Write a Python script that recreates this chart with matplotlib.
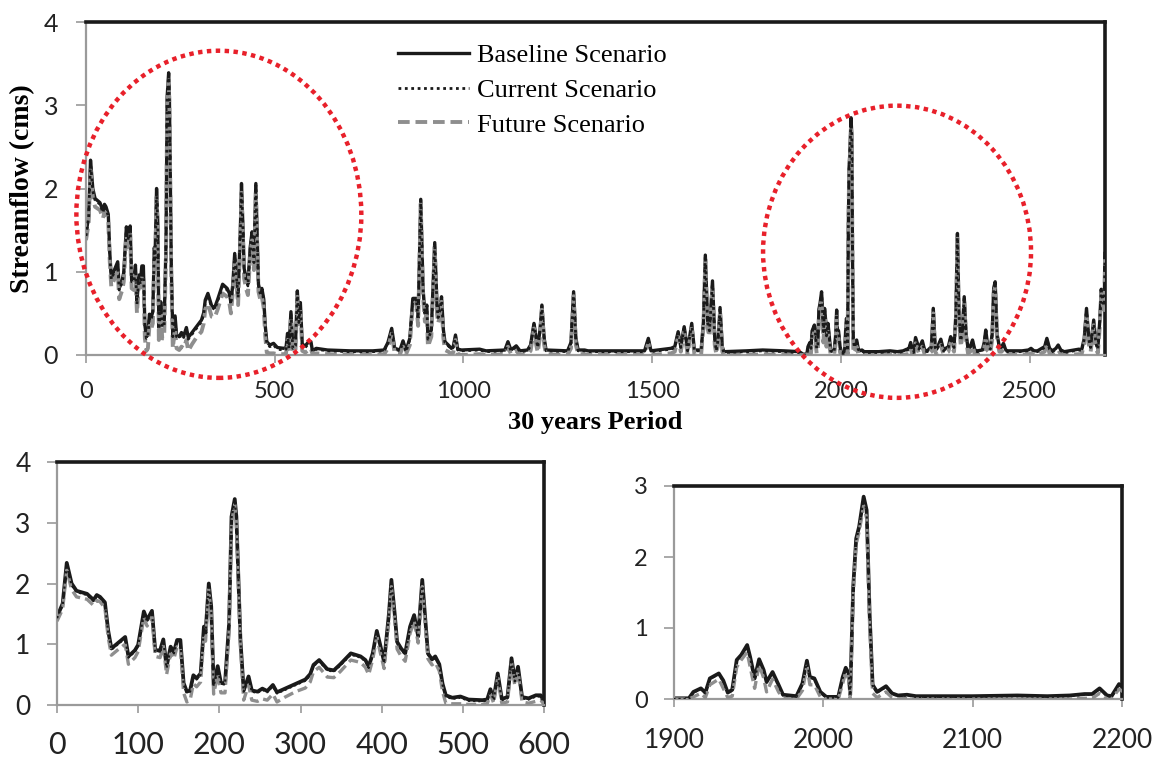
import matplotlib
matplotlib.use("Agg")
import matplotlib.pyplot as plt
from matplotlib.patches import Ellipse
import numpy as np

# ---------------- data ----------------
day_a = [0, 7, 12, 18, 24, 37, 45, 49, 53, 59,
         63, 67, 76, 84, 88, 96, 100, 107, 111, 117,
         121, 127, 131, 135, 140, 144, 148, 152, 156, 160,
         164, 168, 172, 177, 181, 183, 187, 190, 193, 198,
         202, 207, 212, 215, 219, 221, 226, 230, 236, 240,
         247, 253, 259, 266, 271, 281, 294, 306, 312, 316,
         323, 333, 341, 349, 362, 374, 380, 384, 389, 394,
         398, 403, 409, 412, 416, 419, 424, 429, 435, 440,
         445, 450, 455, 457, 462, 466, 471, 475, 479, 487,
         497, 507, 524, 530, 534, 538, 543, 548, 555, 560,
         564, 568, 573, 581, 590, 596]
base_a = [1.45, 1.67, 2.34, 2.00, 1.88, 1.83, 1.73, 1.81, 1.78, 1.69,
          1.23, 0.93, 1.03, 1.12, 0.80, 0.90, 0.99, 1.54, 1.40, 1.55,
          0.90, 0.90, 1.08, 0.63, 0.96, 0.87, 1.07, 1.07, 0.36, 0.22,
          0.24, 0.49, 0.44, 0.52, 1.29, 1.18, 2.00, 1.62, 0.33, 0.64,
          0.36, 0.36, 1.34, 3.10, 3.39, 3.10, 1.07, 0.24, 0.47, 0.24,
          0.22, 0.27, 0.23, 0.33, 0.21, 0.27, 0.35, 0.42, 0.51, 0.66,
          0.74, 0.59, 0.57, 0.67, 0.85, 0.80, 0.74, 0.63, 0.85, 1.22,
          1.00, 0.71, 1.51, 2.06, 1.51, 1.04, 0.93, 0.85, 1.29, 1.48,
          1.13, 2.06, 1.20, 0.85, 0.75, 0.80, 0.67, 0.35, 0.16, 0.12,
          0.14, 0.09, 0.08, 0.09, 0.26, 0.10, 0.52, 0.10, 0.13, 0.77,
          0.41, 0.63, 0.13, 0.11, 0.16, 0.16]
curr_a = [1.43, 1.65, 2.31, 1.97, 1.86, 1.81, 1.71, 1.79, 1.76, 1.67,
          1.21, 0.91, 1.01, 1.10, 0.78, 0.88, 0.97, 1.52, 1.38, 1.53,
          0.88, 0.88, 1.06, 0.61, 0.94, 0.85, 1.05, 1.05, 0.34, 0.20,
          0.22, 0.47, 0.42, 0.50, 1.27, 1.16, 1.98, 1.60, 0.31, 0.62,
          0.34, 0.34, 1.32, 3.08, 3.37, 3.08, 1.05, 0.22, 0.45, 0.22,
          0.20, 0.25, 0.21, 0.31, 0.19, 0.25, 0.33, 0.40, 0.49, 0.64,
          0.72, 0.57, 0.55, 0.65, 0.83, 0.78, 0.72, 0.61, 0.83, 1.20,
          0.98, 0.69, 1.49, 2.04, 1.49, 1.02, 0.91, 0.83, 1.27, 1.46,
          1.11, 2.04, 1.18, 0.83, 0.73, 0.78, 0.65, 0.33, 0.14, 0.10,
          0.12, 0.07, 0.06, 0.07, 0.24, 0.08, 0.50, 0.08, 0.11, 0.75,
          0.39, 0.61, 0.11, 0.09, 0.14, 0.14]
fut_a = [1.38, 1.58, 2.22, 1.90, 1.78, 1.74, 1.64, 1.72, 1.70, 1.60,
         1.12, 0.82, 0.92, 1.00, 0.67, 0.78, 0.88, 1.44, 1.30, 1.45,
         0.80, 0.78, 0.97, 0.50, 0.85, 0.76, 0.96, 0.95, 0.20, 0.05,
         0.08, 0.35, 0.30, 0.38, 1.15, 1.05, 1.90, 1.50, 0.18, 0.50,
         0.20, 0.20, 1.20, 3.00, 3.30, 3.00, 0.95, 0.08, 0.33, 0.08,
         0.06, 0.10, 0.08, 0.18, 0.05, 0.13, 0.22, 0.28, 0.38, 0.55,
         0.62, 0.46, 0.45, 0.55, 0.74, 0.70, 0.62, 0.50, 0.75, 1.12,
         0.88, 0.60, 1.40, 1.95, 1.40, 0.92, 0.80, 0.72, 1.18, 1.38,
         1.02, 1.95, 1.08, 0.76, 0.66, 0.70, 0.56, 0.22, 0.03, 0.02,
         0.02, 0.01, 0.01, 0.02, 0.18, 0.03, 0.45, 0.03, 0.05, 0.70,
         0.32, 0.55, 0.05, 0.03, 0.06, 0.08]

day_b = [600, 610, 640, 700, 760, 790, 800, 810, 818, 832,
         840, 848, 858, 866, 875, 880, 887, 893, 898, 903,
         906, 915, 924, 930, 933, 938, 942, 947, 951, 960,
         968, 973, 979, 985, 995, 1043, 1060, 1110, 1118, 1126,
         1140, 1150, 1170, 1178, 1187, 1193, 1197, 1203, 1208, 1214,
         1219, 1276, 1285, 1292, 1298, 1304, 1321, 1330, 1400, 1480,
         1490, 1497, 1550, 1560, 1569, 1576, 1585, 1594, 1605, 1612,
         1630, 1636, 1641, 1647, 1652, 1660, 1666, 1670, 1675, 1680,
         1686, 1690, 1750, 1793, 1850, 1890]
base_b = [0.05, 0.08, 0.06, 0.05, 0.05, 0.06, 0.15, 0.32, 0.08, 0.06,
          0.17, 0.05, 0.20, 0.68, 0.68, 0.45, 1.87, 0.80, 0.50, 0.60,
          0.20, 0.30, 1.35, 0.60, 0.46, 0.55, 0.70, 0.30, 0.16, 0.12,
          0.08, 0.10, 0.24, 0.07, 0.06, 0.07, 0.05, 0.06, 0.16, 0.06,
          0.11, 0.05, 0.06, 0.12, 0.38, 0.20, 0.10, 0.30, 0.60, 0.20,
          0.06, 0.05, 0.15, 0.76, 0.20, 0.06, 0.06, 0.05, 0.05, 0.05,
          0.20, 0.05, 0.08, 0.10, 0.28, 0.10, 0.34, 0.06, 0.38, 0.06,
          0.06, 0.40, 1.20, 0.40, 0.30, 0.89, 0.20, 0.06, 0.20, 0.57,
          0.10, 0.04, 0.05, 0.06, 0.05, 0.04]
curr_b = [0.04, 0.07, 0.05, 0.04, 0.04, 0.05, 0.14, 0.31, 0.07, 0.05,
          0.16, 0.04, 0.19, 0.67, 0.67, 0.44, 1.86, 0.79, 0.49, 0.59,
          0.19, 0.29, 1.34, 0.59, 0.45, 0.54, 0.69, 0.29, 0.15, 0.11,
          0.07, 0.09, 0.23, 0.06, 0.05, 0.06, 0.04, 0.05, 0.15, 0.05,
          0.10, 0.04, 0.05, 0.11, 0.37, 0.19, 0.09, 0.29, 0.59, 0.19,
          0.05, 0.04, 0.14, 0.75, 0.19, 0.05, 0.05, 0.04, 0.04, 0.04,
          0.19, 0.04, 0.07, 0.09, 0.27, 0.09, 0.33, 0.05, 0.37, 0.05,
          0.05, 0.39, 1.19, 0.39, 0.29, 0.88, 0.19, 0.05, 0.19, 0.56,
          0.09, 0.03, 0.04, 0.05, 0.04, 0.03]
fut_b = [0.01, 0.02, 0.01, 0.00, 0.00, 0.01, 0.08, 0.26, 0.02, 0.01,
         0.10, 0.01, 0.12, 0.62, 0.62, 0.35, 1.82, 0.70, 0.40, 0.52,
         0.10, 0.22, 1.30, 0.50, 0.38, 0.48, 0.64, 0.20, 0.06, 0.04,
         0.01, 0.03, 0.18, 0.01, 0.00, 0.01, 0.00, 0.01, 0.10, 0.01,
         0.05, 0.00, 0.01, 0.05, 0.32, 0.12, 0.03, 0.22, 0.55, 0.12,
         0.01, 0.00, 0.08, 0.71, 0.12, 0.01, 0.01, 0.00, 0.00, 0.00,
         0.14, 0.00, 0.02, 0.04, 0.22, 0.04, 0.28, 0.01, 0.32, 0.01,
         0.01, 0.33, 1.15, 0.32, 0.22, 0.84, 0.12, 0.01, 0.13, 0.52,
         0.04, 0.00, 0.00, 0.01, 0.00, 0.00]

day_c = [1900, 1910, 1913, 1918, 1921, 1924, 1930, 1933, 1936, 1939,
         1942, 1945, 1949, 1951, 1954, 1957, 1960, 1962, 1966, 1970,
         1973, 1982, 1986, 1989, 1991, 1994, 1998, 2002, 2010, 2013,
         2015, 2017, 2018, 2020, 2022, 2024, 2027, 2029, 2031, 2033,
         2036, 2042, 2046, 2050, 2056, 2062, 2100, 2130, 2150, 2165,
         2175, 2180, 2185, 2190, 2193, 2198, 2207, 2216, 2222, 2229,
         2240, 2245, 2250, 2254, 2265, 2272, 2278, 2285, 2291, 2296,
         2300, 2305, 2309, 2313, 2318, 2322, 2327, 2332, 2337, 2343,
         2349, 2355, 2362, 2375, 2380, 2384, 2389, 2396, 2401, 2405,
         2409, 2414, 2420, 2426, 2431, 2437, 2442, 2480, 2497, 2504,
         2512, 2521, 2540, 2546, 2553, 2561, 2570, 2576, 2583, 2592,
         2631, 2638, 2645, 2651, 2657, 2662, 2667, 2670, 2676, 2681,
         2686, 2690, 2694, 2698, 2700]
base_c = [0.01, 0.01, 0.10, 0.15, 0.09, 0.29, 0.36, 0.26, 0.09, 0.13,
          0.55, 0.62, 0.76, 0.59, 0.29, 0.56, 0.41, 0.24, 0.38, 0.20,
          0.06, 0.04, 0.22, 0.54, 0.31, 0.29, 0.10, 0.03, 0.03, 0.31,
          0.44, 0.36, 0.06, 1.58, 2.26, 2.43, 2.85, 2.66, 1.20, 0.20,
          0.10, 0.18, 0.08, 0.05, 0.06, 0.04, 0.04, 0.05, 0.04, 0.05,
          0.07, 0.07, 0.15, 0.05, 0.04, 0.21, 0.08, 0.17, 0.06, 0.05,
          0.10, 0.56, 0.10, 0.07, 0.19, 0.06, 0.08, 0.10, 0.22, 0.15,
          0.10, 0.50, 1.46, 0.50, 0.18, 0.30, 0.70, 0.25, 0.08, 0.10,
          0.18, 0.06, 0.05, 0.06, 0.15, 0.30, 0.12, 0.08, 0.25, 0.80,
          0.88, 0.25, 0.10, 0.10, 0.14, 0.06, 0.05, 0.05, 0.06, 0.08,
          0.05, 0.05, 0.10, 0.20, 0.08, 0.05, 0.08, 0.12, 0.06, 0.04,
          0.07, 0.06, 0.20, 0.56, 0.20, 0.10, 0.30, 0.42, 0.15, 0.08,
          0.40, 0.79, 0.66, 0.60, 1.22]
curr_c = [0.00, 0.00, 0.09, 0.14, 0.08, 0.28, 0.35, 0.25, 0.08, 0.12,
          0.54, 0.61, 0.75, 0.58, 0.28, 0.55, 0.40, 0.23, 0.37, 0.19,
          0.05, 0.03, 0.21, 0.53, 0.30, 0.28, 0.09, 0.02, 0.02, 0.30,
          0.43, 0.35, 0.05, 1.56, 2.24, 2.41, 2.83, 2.64, 1.18, 0.19,
          0.09, 0.17, 0.07, 0.04, 0.05, 0.03, 0.03, 0.04, 0.03, 0.04,
          0.06, 0.06, 0.14, 0.04, 0.03, 0.20, 0.07, 0.16, 0.05, 0.04,
          0.09, 0.55, 0.09, 0.06, 0.18, 0.05, 0.07, 0.09, 0.21, 0.14,
          0.09, 0.49, 1.45, 0.49, 0.17, 0.29, 0.69, 0.24, 0.07, 0.09,
          0.17, 0.05, 0.04, 0.05, 0.14, 0.29, 0.11, 0.07, 0.24, 0.79,
          0.87, 0.24, 0.09, 0.09, 0.13, 0.05, 0.04, 0.04, 0.05, 0.07,
          0.04, 0.04, 0.09, 0.19, 0.07, 0.04, 0.07, 0.11, 0.05, 0.03,
          0.06, 0.05, 0.19, 0.55, 0.19, 0.09, 0.29, 0.41, 0.14, 0.07,
          0.39, 0.78, 0.65, 0.59, 1.21]
fut_c = [0.00, 0.00, 0.03, 0.08, 0.02, 0.20, 0.28, 0.15, 0.02, 0.04,
         0.45, 0.55, 0.66, 0.45, 0.15, 0.48, 0.30, 0.10, 0.28, 0.10,
         0.01, 0.00, 0.12, 0.46, 0.20, 0.20, 0.03, 0.00, 0.00, 0.22,
         0.38, 0.28, 0.01, 1.48, 2.18, 2.36, 2.72, 2.55, 1.05, 0.08,
         0.02, 0.10, 0.02, 0.00, 0.01, 0.00, 0.00, 0.00, 0.00, 0.00,
         0.01, 0.01, 0.08, 0.00, 0.00, 0.14, 0.02, 0.10, 0.01, 0.00,
         0.04, 0.50, 0.04, 0.01, 0.12, 0.01, 0.02, 0.04, 0.15, 0.08,
         0.04, 0.44, 1.40, 0.42, 0.10, 0.23, 0.64, 0.18, 0.02, 0.04,
         0.11, 0.01, 0.00, 0.01, 0.08, 0.22, 0.05, 0.02, 0.18, 0.74,
         0.82, 0.18, 0.04, 0.04, 0.07, 0.01, 0.00, 0.00, 0.01, 0.02,
         0.00, 0.00, 0.04, 0.13, 0.02, 0.00, 0.02, 0.06, 0.01, 0.00,
         0.01, 0.01, 0.13, 0.50, 0.13, 0.04, 0.23, 0.36, 0.08, 0.02,
         0.33, 0.73, 0.60, 0.54, 1.15]

series_labels = ["Baseline Scenario", "Current Scenario", "Future Scenario"]
x_label = "30 years Period"
y_label = "Streamflow (cms)"

# ---------------- assemble ----------------
days = np.array(day_a + day_b + day_c, dtype=float)
baseline = np.array(base_a + base_b + base_c)
current = np.array(curr_a + curr_b + curr_c)
future = np.array(fut_a + fut_b + fut_c)

SANS = "Lato"
SERIF = "Liberation Serif"
GRAY_SPINE = "#9a9a9a"
BLACK = "#1a1a1a"
GRAY_LINE = "#8e8e8e"

W, H = 1169, 758
fig = plt.figure(figsize=(W / 100, H / 100), dpi=100)


def px_axes(l, t, r, b):
    return fig.add_axes([l / W, 1 - b / H, (r - l) / W, (b - t) / H])


def style(ax, xsize, ysize, ylen=7, xlen=6, ypad=12, xpad=8):
    ax.spines["left"].set_color(GRAY_SPINE)
    ax.spines["bottom"].set_color(GRAY_SPINE)
    ax.spines["left"].set_linewidth(1.6)
    ax.spines["bottom"].set_linewidth(1.6)
    ax.spines["top"].set_color(BLACK)
    ax.spines["right"].set_color(BLACK)
    ax.spines["top"].set_linewidth(2.6)
    ax.spines["right"].set_linewidth(2.6)
    ax.tick_params(axis="y", direction="out", length=ylen, width=1.2,
                   color=GRAY_SPINE, labelsize=ysize, pad=ypad, labelcolor="#222222")
    ax.tick_params(axis="x", direction="out", length=xlen, width=1.2,
                   color=GRAY_SPINE, labelsize=xsize, pad=xpad, labelcolor="#222222")
    for lab in ax.get_xticklabels() + ax.get_yticklabels():
        lab.set_fontfamily(SANS)


def draw(ax, lw_b, lw_f, lw_c):
    ax.plot(days, baseline, color=BLACK, lw=lw_b, solid_joinstyle="round",
            label=series_labels[0], zorder=2)
    ax.plot(days, future, color=GRAY_LINE, lw=lw_f, linestyle=(0, (3.0, 1.5)),
            label=series_labels[2], zorder=3)
    ax.plot(days, current, color=BLACK, lw=lw_c, linestyle=(0, (1, 1.3)),
            label=series_labels[1], zorder=4)


# ---------------- top panel ----------------
ax1 = px_axes(86, 22, 1105, 355)
draw(ax1, 2.4, 2.8, 2.0)
ax1.set_xlim(0, 2700)
ax1.set_ylim(0, 4)
ax1.set_xticks(np.arange(0, 2501, 500))
ax1.set_yticks(np.arange(0, 5, 1))
style(ax1, 17, 18, ylen=7, xlen=6, ypad=13, xpad=13)
ax1.set_xlabel(x_label, fontfamily=SERIF, fontweight="bold", fontsize=19, labelpad=6)
ax1.set_ylabel(y_label, fontfamily=SERIF, fontweight="bold", fontsize=20, labelpad=6)

e1 = Ellipse((352, 1.69), 755, 3.93, fill=False, edgecolor="#e8202a", lw=3.2,
             linestyle=(0, (1, 1)), clip_on=False, zorder=6)
e2 = Ellipse((2149, 1.24), 710, 3.51, fill=False, edgecolor="#e8202a", lw=3.2,
             linestyle=(0, (1, 1)), clip_on=False, zorder=6)
ax1.add_patch(e1)
ax1.add_patch(e2)

handles, labels = ax1.get_legend_handles_labels()
order = [0, 2, 1]
leg = ax1.legend([handles[i] for i in order], [labels[i] for i in order],
                 loc="upper left", bbox_to_anchor=(398 / W, 1 - 44 / H),
                 bbox_transform=fig.transFigure, frameon=False,
                 prop={"family": SERIF, "size": 19}, handlelength=2.7,
                 handletextpad=0.3, labelspacing=0.42, borderpad=0, borderaxespad=0)

# ---------------- bottom-left panel ----------------
ax2 = px_axes(57, 462, 544, 705)
draw(ax2, 2.7, 2.4, 1.6)
ax2.set_xlim(0, 600)
ax2.set_ylim(0, 4)
ax2.set_xticks(np.arange(0, 601, 100))
ax2.set_yticks(np.arange(0, 5, 1))
style(ax2, 22, 19, ylen=7, xlen=6, ypad=12, xpad=13)

# ---------------- bottom-right panel ----------------
ax3 = px_axes(674, 486, 1122, 699)
draw(ax3, 2.7, 2.4, 1.6)
ax3.set_xlim(1900, 2200)
ax3.set_ylim(0, 3)
ax3.set_xticks(np.arange(1900, 2201, 100))
ax3.set_yticks(np.arange(0, 4, 1))
style(ax3, 19, 17, ylen=7, xlen=6, ypad=12, xpad=15)

fig.savefig("out.png", dpi=100)
